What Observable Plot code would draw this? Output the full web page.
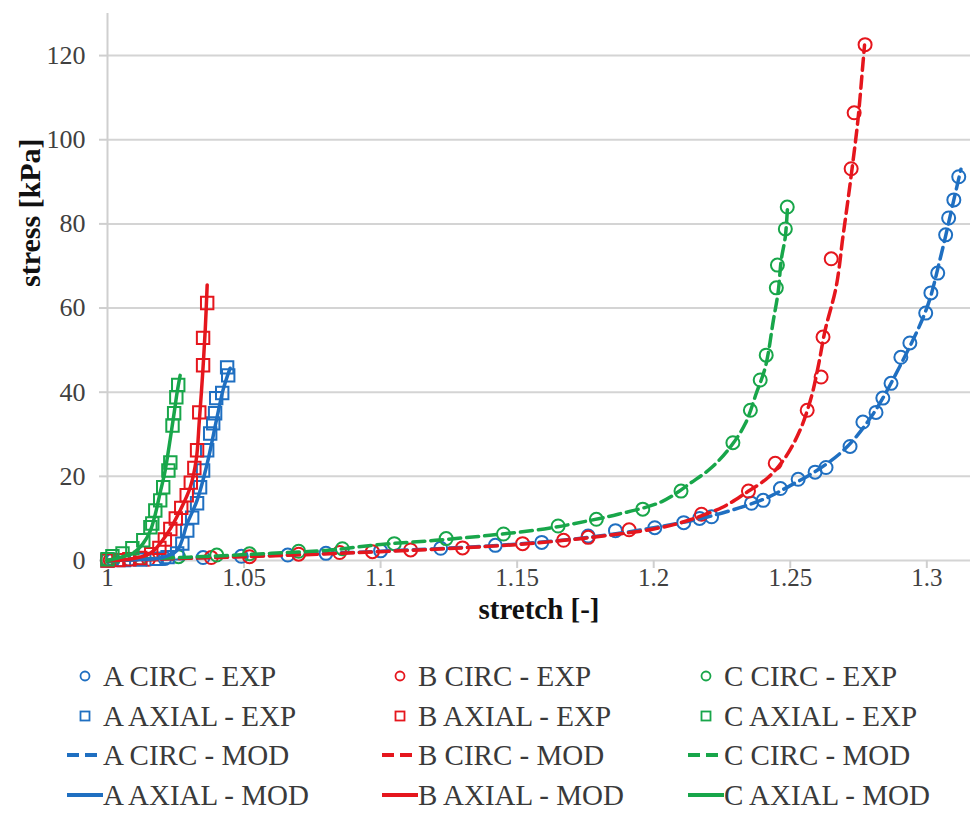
<!DOCTYPE html>
<html>
<head>
<meta charset="utf-8">
<script src="https://cdn.jsdelivr.net/npm/d3@7"></script>
<script src="https://cdn.jsdelivr.net/npm/@observablehq/plot@0.6"></script>
<style>
  body { margin: 0; background: #fff; font-family: "Liberation Serif", serif; }
  #wrap { width: 974px; position: relative; }
  #legend { position: relative; width: 974px; height: 186px; }
  .item { position: absolute; height: 40px; display: flex; align-items: center; font-size: 29px; color: #3a3a3a; white-space: nowrap; }
  .item svg { position: absolute; }
</style>
</head>
<body>
<div id="wrap"><div id="chart"></div><div id="legend"></div></div>
<script>
// ---- data: [stretch, stress kPa] ----
const aCircExp = [[1.002,0.2],[1.008,0.3],[1.021,0.5],[1.035,0.7],[1.049,1.0],[1.066,1.3],[1.080,1.7],[1.100,2.3],[1.122,2.9],[1.142,3.6],[1.159,4.3],[1.176,5.8],[1.186,7.1],[1.2004,7.8],[1.211,9.0],[1.2168,10.0],[1.2212,10.4],[1.2358,13.6],[1.2401,14.3],[1.2464,17.1],[1.2529,19.3],[1.2591,21.0],[1.2631,22.1],[1.2719,27.1],[1.2766,32.9],[1.2814,35.2],[1.2839,38.6],[1.2869,42.1],[1.2905,48.3],[1.2938,51.7],[1.2996,58.8],[1.3015,63.6],[1.304,68.3],[1.3069,77.4],[1.308,81.4],[1.3099,85.7],[1.3117,91.2]];
const bCircExp = [[1.001,0.1],[1.015,0.3],[1.038,0.7],[1.052,0.9],[1.070,1.5],[1.085,1.9],[1.097,2.1],[1.111,2.5],[1.130,3.0],[1.152,4.0],[1.167,4.8],[1.176,5.5],[1.191,7.3],[1.2175,11.0],[1.2347,16.5],[1.2445,23.1],[1.2562,35.7],[1.2613,43.6],[1.262,53.1],[1.265,71.7],[1.2723,93.1],[1.2734,106.4],[1.2774,122.6]];
const cCircExp = [[1.000,0.2],[1.012,0.5],[1.026,0.9],[1.040,1.3],[1.052,1.6],[1.070,2.2],[1.086,2.8],[1.105,4.0],[1.124,5.2],[1.145,6.3],[1.165,8.2],[1.179,9.8],[1.196,12.2],[1.210,16.5],[1.229,28.0],[1.2354,35.7],[1.239,42.9],[1.2412,48.8],[1.2449,64.8],[1.2453,70.2],[1.2482,78.8],[1.2489,84.0]];
const aAxialExp = [[1.000,0.0],[1.006,0.1],[1.012,0.2],[1.018,0.4],[1.022,0.8],[1.0255,1.7],[1.0274,4.0],[1.0292,7.1],[1.0310,10.2],[1.0328,13.6],[1.0339,17.4],[1.0350,21.4],[1.0365,26.2],[1.0376,30.2],[1.0387,32.6],[1.0394,35.0],[1.0398,38.6],[1.0420,39.8],[1.0442,44.0],[1.0438,45.9]];
const bAxialExp = [[1.000,0.0],[1.004,0.1],[1.008,0.3],[1.012,0.6],[1.016,1.5],[1.019,3.0],[1.021,5.0],[1.023,7.5],[1.025,10.0],[1.027,12.5],[1.029,15.5],[1.0305,18.5],[1.0318,22.0],[1.0328,26.2],[1.0336,35.2],[1.035,46.4],[1.035,52.9],[1.0365,61.2]];
const cAxialExp = [[1.000,0.3],[1.0018,1.0],[1.0055,1.7],[1.0091,2.9],[1.0131,4.8],[1.0157,7.9],[1.0164,8.8],[1.0175,11.9],[1.0193,14.3],[1.0204,17.4],[1.0223,21.4],[1.0230,23.3],[1.0238,32.1],[1.0244,35.0],[1.0252,38.8],[1.0259,41.7]];
const aCircMod = [[1.0,0],[1.05,1.0],[1.10,2.2],[1.15,3.9],[1.18,5.8],[1.20,7.8],[1.22,10.4],[1.24,14.5],[1.25,17.8],[1.26,21.5],[1.27,26.5],[1.28,34.5],[1.29,46],[1.30,60],[1.305,72],[1.31,86],[1.3125,93]];
const bCircMod = [[1.0,0],[1.05,0.9],[1.10,2.1],[1.15,3.8],[1.18,5.7],[1.20,7.5],[1.21,9.0],[1.225,12.6],[1.2336,16],[1.242,19.8],[1.2482,24.5],[1.2536,31],[1.2577,38.8],[1.2602,46],[1.2628,54.8],[1.2668,65],[1.2693,77],[1.2712,86],[1.273,95],[1.2748,104.8],[1.2766,118],[1.2772,122.5]];
const cCircMod = [[1.0,0],[1.03,0.8],[1.06,1.7],[1.08,2.4],[1.10,3.8],[1.12,4.8],[1.14,6.0],[1.16,7.5],[1.175,9.3],[1.187,11.0],[1.203,14.0],[1.2139,18.6],[1.2212,22.1],[1.2281,27],[1.2336,32.6],[1.2376,39.8],[1.2409,46],[1.2438,57],[1.2456,64],[1.2467,71.4],[1.2482,77],[1.249,84]];
const aAxialMod = [[1.0,0],[1.01,0.2],[1.02,0.7],[1.0255,2.4],[1.0292,8.8],[1.0328,14.3],[1.0365,23],[1.0401,34],[1.0423,40.5],[1.0449,45.7]];
const bAxialMod = [[1.0,0],[1.008,0.3],[1.0157,1.7],[1.0219,6.4],[1.0266,11.9],[1.0303,17.4],[1.0325,24],[1.0336,33],[1.0348,44],[1.0358,55],[1.0365,65.5]];
const cAxialMod = [[1.0,0],[1.005,0.8],[1.0095,1.8],[1.013,4.0],[1.0157,7.1],[1.0175,11],[1.0193,16.2],[1.021,21],[1.023,29],[1.0245,35.5],[1.0255,40],[1.0266,44]];

const xTicks = [1, 1.05, 1.1, 1.15, 1.2, 1.25, 1.3];
const yTicks = [0, 20, 40, 60, 80, 100, 120];
const colors = {A: "#1f6fc1", B: "#e5161d", C: "#18a64a"};

const series = [
  {name: "A CIRC - EXP", s: "A", kind: "circle", data: aCircExp},
  {name: "B CIRC - EXP", s: "B", kind: "circle", data: bCircExp},
  {name: "C CIRC - EXP", s: "C", kind: "circle", data: cCircExp},
  {name: "A AXIAL - EXP", s: "A", kind: "square", data: aAxialExp},
  {name: "B AXIAL - EXP", s: "B", kind: "square", data: bAxialExp},
  {name: "C AXIAL - EXP", s: "C", kind: "square", data: cAxialExp},
  {name: "A CIRC - MOD", s: "A", kind: "dash", data: aCircMod},
  {name: "B CIRC - MOD", s: "B", kind: "dash", data: bCircMod},
  {name: "C CIRC - MOD", s: "C", kind: "dash", data: cCircMod},
  {name: "A AXIAL - MOD", s: "A", kind: "solid", data: aAxialMod},
  {name: "B AXIAL - MOD", s: "B", kind: "solid", data: bAxialMod},
  {name: "C AXIAL - MOD", s: "C", kind: "solid", data: cAxialMod}
];
const rows = series.flatMap(se => se.data.map(([x, y]) => ({x, y, name: se.name, kind: se.kind, color: colors[se.s]})));

const fmt = d => String(+d.toFixed(2));

const chart = Plot.plot({
  width: 974, height: 640,
  marginLeft: 107, marginRight: 4, marginTop: 13, marginBottom: 80,
  style: {fontFamily: "Liberation Serif, serif", background: "#fff"},
  x: {domain: [1, 1.316]},
  y: {domain: [0, 130]},
  color: {type: "identity"},
  marks: [
    Plot.ruleY(yTicks, {stroke: "#d4d4d4", strokeWidth: 2}),
    Plot.ruleX([1], {stroke: "#cfcfcf", strokeWidth: 2}),
    Plot.axisY({ticks: yTicks, tickSize: 8, tickPadding: 14, fontSize: 26, label: null, stroke: "#cfcfcf", fill: "#404040", strokeWidth: 2}),
    Plot.axisX({ticks: xTicks, tickSize: 8, tickPadding: 0, fontSize: 25, label: null, tickFormat: fmt, stroke: "#cfcfcf", fill: "#404040", strokeWidth: 2}),
    Plot.dot(rows.filter(d => d.kind === "circle"), {x: "x", y: "y", r: 6.5, stroke: "color", strokeWidth: 2, fill: "none"}),
    Plot.dot(rows.filter(d => d.kind === "square"), {x: "x", y: "y", r: 7, symbol: "square", stroke: "color", strokeWidth: 2, fill: "none"}),
    Plot.line(rows.filter(d => d.kind === "dash"), {x: "x", y: "y", z: "name", stroke: "color", strokeWidth: 3.5, strokeDasharray: "12,6", curve: "catmull-rom"}),
    Plot.line(rows.filter(d => d.kind === "solid"), {x: "x", y: "y", z: "name", stroke: "color", strokeWidth: 3.5, curve: "catmull-rom"}),
    Plot.text(["stress [kPa]"], {text: d => d, frameAnchor: "left", dx: -77, rotate: -90, fontSize: 30, fontWeight: "bold", fill: "#111"}),
    Plot.text(["stretch [-]"], {text: d => d, frameAnchor: "bottom", dy: 58, fontSize: 29, fontWeight: "bold", fill: "#111"})
  ]
});
document.getElementById("chart").appendChild(chart);

// ---- legend ----
const legend = document.getElementById("legend");
const colX = [85, 400, 706];
const rowY = [36, 76, 115, 155];
const ns = "http://www.w3.org/2000/svg";
series.forEach((se, i) => {
  const col = i % 3, row = Math.floor(i / 3);
  const c = colors[se.s];
  const item = document.createElement("div");
  item.className = "item";
  item.style.left = (colX[col] + 18) + "px";
  item.style.top = (rowY[row] - 20) + "px";
  item.textContent = se.name;
  legend.appendChild(item);
  const svg = document.createElementNS(ns, "svg");
  svg.setAttribute("width", 40); svg.setAttribute("height", 20);
  svg.style.position = "absolute";
  svg.style.left = (colX[col] - 20) + "px";
  svg.style.top = (rowY[row] - 10) + "px";
  let el;
  if (se.kind === "circle") {
    el = document.createElementNS(ns, "circle");
    el.setAttribute("cx", 20); el.setAttribute("cy", 10); el.setAttribute("r", 4.5);
    el.setAttribute("fill", "none"); el.setAttribute("stroke", c); el.setAttribute("stroke-width", 1.8);
  } else if (se.kind === "square") {
    el = document.createElementNS(ns, "rect");
    el.setAttribute("x", 15.5); el.setAttribute("y", 5.5); el.setAttribute("width", 9); el.setAttribute("height", 9);
    el.setAttribute("fill", "none"); el.setAttribute("stroke", c); el.setAttribute("stroke-width", 1.8);
  } else {
    el = document.createElementNS(ns, "line");
    el.setAttribute("x1", 2); el.setAttribute("x2", 38); el.setAttribute("y1", 10); el.setAttribute("y2", 10);
    el.setAttribute("stroke", c); el.setAttribute("stroke-width", 4);
    if (se.kind === "dash") el.setAttribute("stroke-dasharray", "12,6");
  }
  svg.appendChild(el);
  legend.appendChild(svg);
});
</script>
</body>
</html>
